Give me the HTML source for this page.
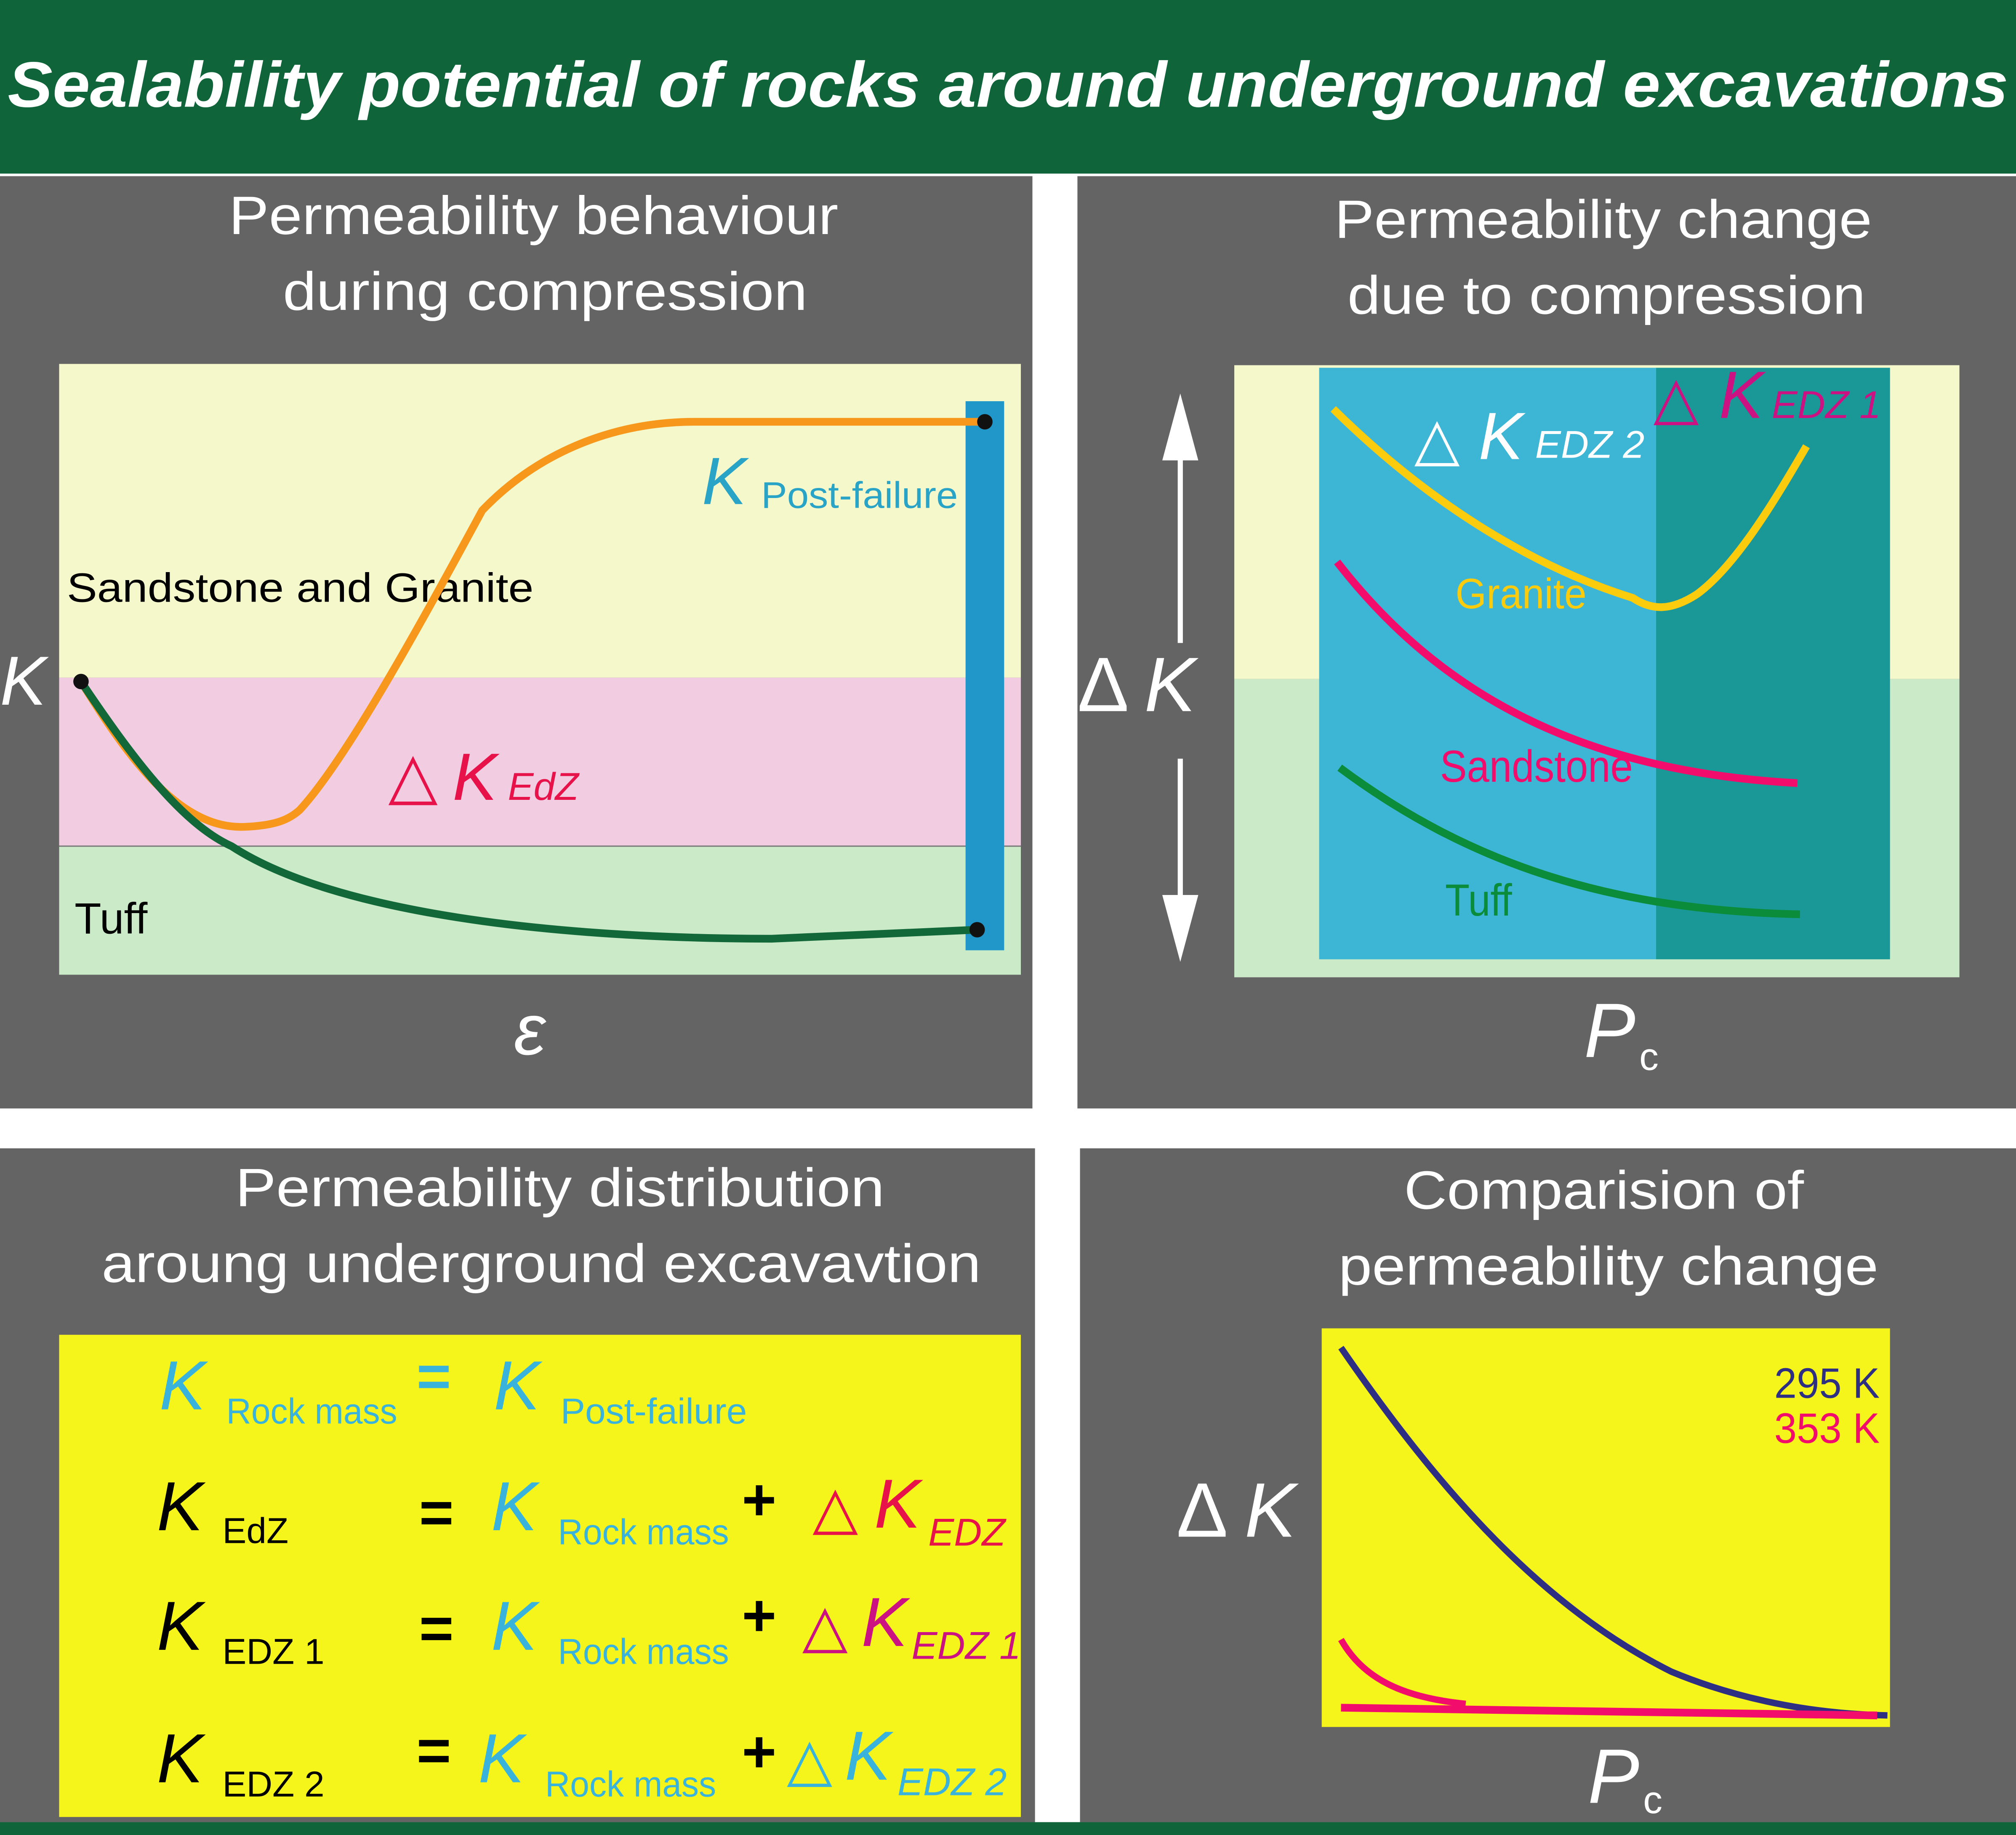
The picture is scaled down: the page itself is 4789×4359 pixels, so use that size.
<!DOCTYPE html>
<html><head><meta charset="utf-8"><style>
html,body{margin:0;padding:0;background:#fff}
svg{display:block}
text{font-family:"Liberation Sans","DejaVu Sans",sans-serif}
</style></head><body>
<svg width="4789" height="4359" viewBox="0 0 1568 1427" preserveAspectRatio="none" xmlns="http://www.w3.org/2000/svg">
<rect x="0" y="0" width="1568" height="1427" fill="#fff"/>
<rect x="0" y="0" width="1568" height="135" fill="#10643a"/>
<text x="6" y="83" font-size="50" font-weight="bold" font-style="italic" fill="#fff" textLength="1556" lengthAdjust="spacingAndGlyphs">Sealability potential of rocks around underground excavations</text>
<rect x="0" y="1417" width="1568" height="10" fill="#10643a"/>
<!-- panels -->
<rect x="0" y="137" width="803" height="725" fill="#646464"/>
<rect x="838" y="137" width="730" height="725" fill="#646464"/>
<rect x="0" y="893" width="805" height="524" fill="#646464"/>
<rect x="840" y="893" width="728" height="524" fill="#646464"/>

<!-- TL -->
<text x="178" y="182" font-size="42" fill="#fff" textLength="474" lengthAdjust="spacingAndGlyphs">Permeability behaviour</text>
<text x="220" y="241" font-size="42" fill="#fff" textLength="408" lengthAdjust="spacingAndGlyphs">during compression</text>
<rect x="46" y="283" width="748" height="244" fill="#f5f8cb"/>
<rect x="46" y="527" width="748" height="131" fill="#f2cde2"/>
<rect x="46" y="658" width="748" height="100" fill="#cbeac8"/>
<line x1="46" y1="658" x2="794" y2="658" stroke="#777" stroke-width="1"/>
<rect x="751" y="312" width="30" height="427" fill="#2196c8"/>
<text x="52" y="468" font-size="32" fill="#000" textLength="363" lengthAdjust="spacingAndGlyphs">Sandstone and Granite</text>
<text x="58" y="726" font-size="34" fill="#000">Tuff</text>
<text x="0" y="548" font-size="54" font-style="italic" fill="#fff">K</text>
<text x="546" y="392" font-size="52" font-style="italic" fill="#29a3c6">K</text>
<text x="592" y="395" font-size="29" fill="#29a3c6" textLength="153" lengthAdjust="spacingAndGlyphs">Post-failure</text>
<text x="302" y="620" font-size="50" fill="#e8124a">△</text>
<text x="352" y="622" font-size="52" font-style="italic" fill="#e8124a">K</text>
<text x="395" y="622" font-size="30" font-style="italic" fill="#e8124a">EdZ</text>
<path d="M63,530 C100,590 140,645 190,643 C215,642 225,637 233,630 C270,590 330,480 375,397 C420,350 480,328 540,328 L766,328" fill="none" stroke="#f7981d" stroke-width="6"/>
<path d="M63,530 C100,585 140,640 180,658 C260,710 430,730 600,730 L760,723" fill="none" stroke="#13683a" stroke-width="6"/>
<circle cx="63" cy="530" r="6" fill="#111"/>
<circle cx="766" cy="328" r="6" fill="#111"/>
<circle cx="760" cy="723" r="6" fill="#111"/>
<text x="412" y="820" font-size="56" font-style="italic" fill="#fff" text-anchor="middle">ε</text>

<!-- TR -->
<text x="1038" y="185" font-size="42" fill="#fff" textLength="418" lengthAdjust="spacingAndGlyphs">Permeability change</text>
<text x="1048" y="244" font-size="42" fill="#fff" textLength="403" lengthAdjust="spacingAndGlyphs">due to compression</text>
<rect x="960" y="284" width="564" height="244" fill="#f5f8cb"/>
<rect x="960" y="528" width="564" height="232" fill="#cbeac8"/>
<rect x="1026" y="286" width="262" height="460" fill="#3db5d4"/>
<rect x="1288" y="286" width="182" height="460" fill="#1a9898"/>
<line x1="918" y1="340" x2="918" y2="500" stroke="#fff" stroke-width="4"/>
<polygon points="918,306 904,358 932,358" fill="#fff"/>
<line x1="918" y1="590" x2="918" y2="710" stroke="#fff" stroke-width="4"/>
<polygon points="918,748 904,696 932,696" fill="#fff"/>
<text x="838" y="553" font-size="60" fill="#fff">Δ</text>
<text x="890" y="553" font-size="60" font-style="italic" fill="#fff">K</text>
<text x="1100" y="357" font-size="46" fill="#fff">△</text>
<text x="1150" y="357" font-size="52" font-style="italic" fill="#fff">K</text>
<text x="1194" y="356" font-size="30" font-style="italic" fill="#fff">EDZ 2</text>
<text x="1286" y="325" font-size="46" fill="#cc1283">△</text>
<text x="1337" y="325" font-size="52" font-style="italic" fill="#cc1283">K</text>
<text x="1378" y="325" font-size="30" font-style="italic" fill="#cc1283">EDZ 1</text>
<path d="M1037,318 C1110,390 1190,440 1270,465 C1285,475 1300,475 1320,462 C1350,440 1380,390 1405,347" fill="none" stroke="#fbcb0d" stroke-width="6"/>
<path d="M1040,437 C1120,540 1230,600 1398,609" fill="none" stroke="#f20c6b" stroke-width="6"/>
<path d="M1042,597 C1140,670 1250,708 1400,711" fill="none" stroke="#0b8c3a" stroke-width="6"/>
<text x="1132" y="473" font-size="33" fill="#fbcb0d" textLength="102" lengthAdjust="spacingAndGlyphs">Granite</text>
<text x="1120" y="608" font-size="35" fill="#f20c6b" textLength="150" lengthAdjust="spacingAndGlyphs">Sandstone</text>
<text x="1124" y="712" font-size="35" fill="#0b8c3a" textLength="52" lengthAdjust="spacingAndGlyphs">Tuff</text>
<text x="1232" y="822" font-size="60" font-style="italic" fill="#fff">P</text>
<text x="1275" y="832" font-size="30" fill="#fff">c</text>

<!-- BL -->
<text x="183" y="938" font-size="42" fill="#fff" textLength="505" lengthAdjust="spacingAndGlyphs">Permeability distribution</text>
<text x="79" y="997" font-size="42" fill="#fff" textLength="684" lengthAdjust="spacingAndGlyphs">aroung underground excavavtion</text>
<rect x="46" y="1038" width="748" height="375" fill="#f5f51c"/>
<g font-style="italic" font-size="54">
<text x="124" y="1096" fill="#3ab3dc">K</text>
<text x="384" y="1096" fill="#3ab3dc">K</text>
<text x="122" y="1190" fill="#000">K</text>
<text x="382" y="1190" fill="#3ab3dc">K</text>
<text x="122" y="1283" fill="#000">K</text>
<text x="382" y="1283" fill="#3ab3dc">K</text>
<text x="122" y="1386" fill="#000">K</text>
<text x="372" y="1386" fill="#3ab3dc">K</text>
<text x="680" y="1188" fill="#e8124a">K</text>
<text x="670" y="1280" fill="#cc1283">K</text>
<text x="657" y="1384" fill="#3ab3dc">K</text>
</g>
<g font-size="28">
<text x="176" y="1107" fill="#3ab3dc" textLength="133" lengthAdjust="spacingAndGlyphs">Rock mass</text>
<text x="436" y="1107" fill="#3ab3dc" textLength="145" lengthAdjust="spacingAndGlyphs">Post-failure</text>
<text x="173" y="1200" fill="#000">EdZ</text>
<text x="434" y="1201" fill="#3ab3dc" textLength="133" lengthAdjust="spacingAndGlyphs">Rock mass</text>
<text x="173" y="1294" fill="#000">EDZ 1</text>
<text x="434" y="1294" fill="#3ab3dc" textLength="133" lengthAdjust="spacingAndGlyphs">Rock mass</text>
<text x="173" y="1397" fill="#000">EDZ 2</text>
<text x="424" y="1397" fill="#3ab3dc" textLength="133" lengthAdjust="spacingAndGlyphs">Rock mass</text>
</g>
<g font-size="30" font-style="italic">
<text x="722" y="1202" fill="#e8124a">EDZ</text>
<text x="709" y="1290" fill="#cc1283">EDZ 1</text>
<text x="698" y="1396" fill="#3ab3dc">EDZ 2</text>
</g>
<g font-size="46">
<text x="632" y="1188" fill="#e8124a">△</text>
<text x="624" y="1280" fill="#cc1283">△</text>
<text x="612" y="1384" fill="#3ab3dc">△</text>
</g>
<g font-size="46" font-weight="bold">
<text x="324" y="1086" fill="#3ab3dc">=</text>
<text x="326" y="1192" fill="#000">=</text>
<text x="326" y="1282" fill="#000">=</text>
<text x="324" y="1377" fill="#000">=</text>
<text x="577" y="1182" fill="#000">+</text>
<text x="577" y="1272" fill="#000">+</text>
<text x="577" y="1378" fill="#000">+</text>
</g>

<!-- BR -->
<text x="1092" y="940" font-size="42" fill="#fff" textLength="311" lengthAdjust="spacingAndGlyphs">Comparision of</text>
<text x="1041" y="999" font-size="42" fill="#fff" textLength="420" lengthAdjust="spacingAndGlyphs">permeability change</text>
<rect x="1028" y="1033" width="442" height="310" fill="#f5f51c"/>
<text x="915" y="1195" font-size="60" fill="#fff">Δ</text>
<text x="968" y="1195" font-size="60" font-style="italic" fill="#fff">K</text>
<text x="1380" y="1087" font-size="33" fill="#2e2f83" textLength="82" lengthAdjust="spacingAndGlyphs">295 K</text>
<text x="1380" y="1122" font-size="33" fill="#f20c6b" textLength="82" lengthAdjust="spacingAndGlyphs">353 K</text>
<path d="M1043,1048 C1120,1160 1200,1250 1300,1300 C1360,1325 1420,1333 1468,1334" fill="none" stroke="#2e2f83" stroke-width="5"/>
<path d="M1043,1275 C1060,1305 1090,1320 1140,1325" fill="none" stroke="#f20c6b" stroke-width="5"/>
<path d="M1043,1328 L1460,1334" fill="none" stroke="#f20c6b" stroke-width="6"/>
<text x="1235" y="1402" font-size="60" font-style="italic" fill="#fff">P</text>
<text x="1278" y="1410" font-size="30" fill="#fff">c</text>
</svg>
</body></html>
